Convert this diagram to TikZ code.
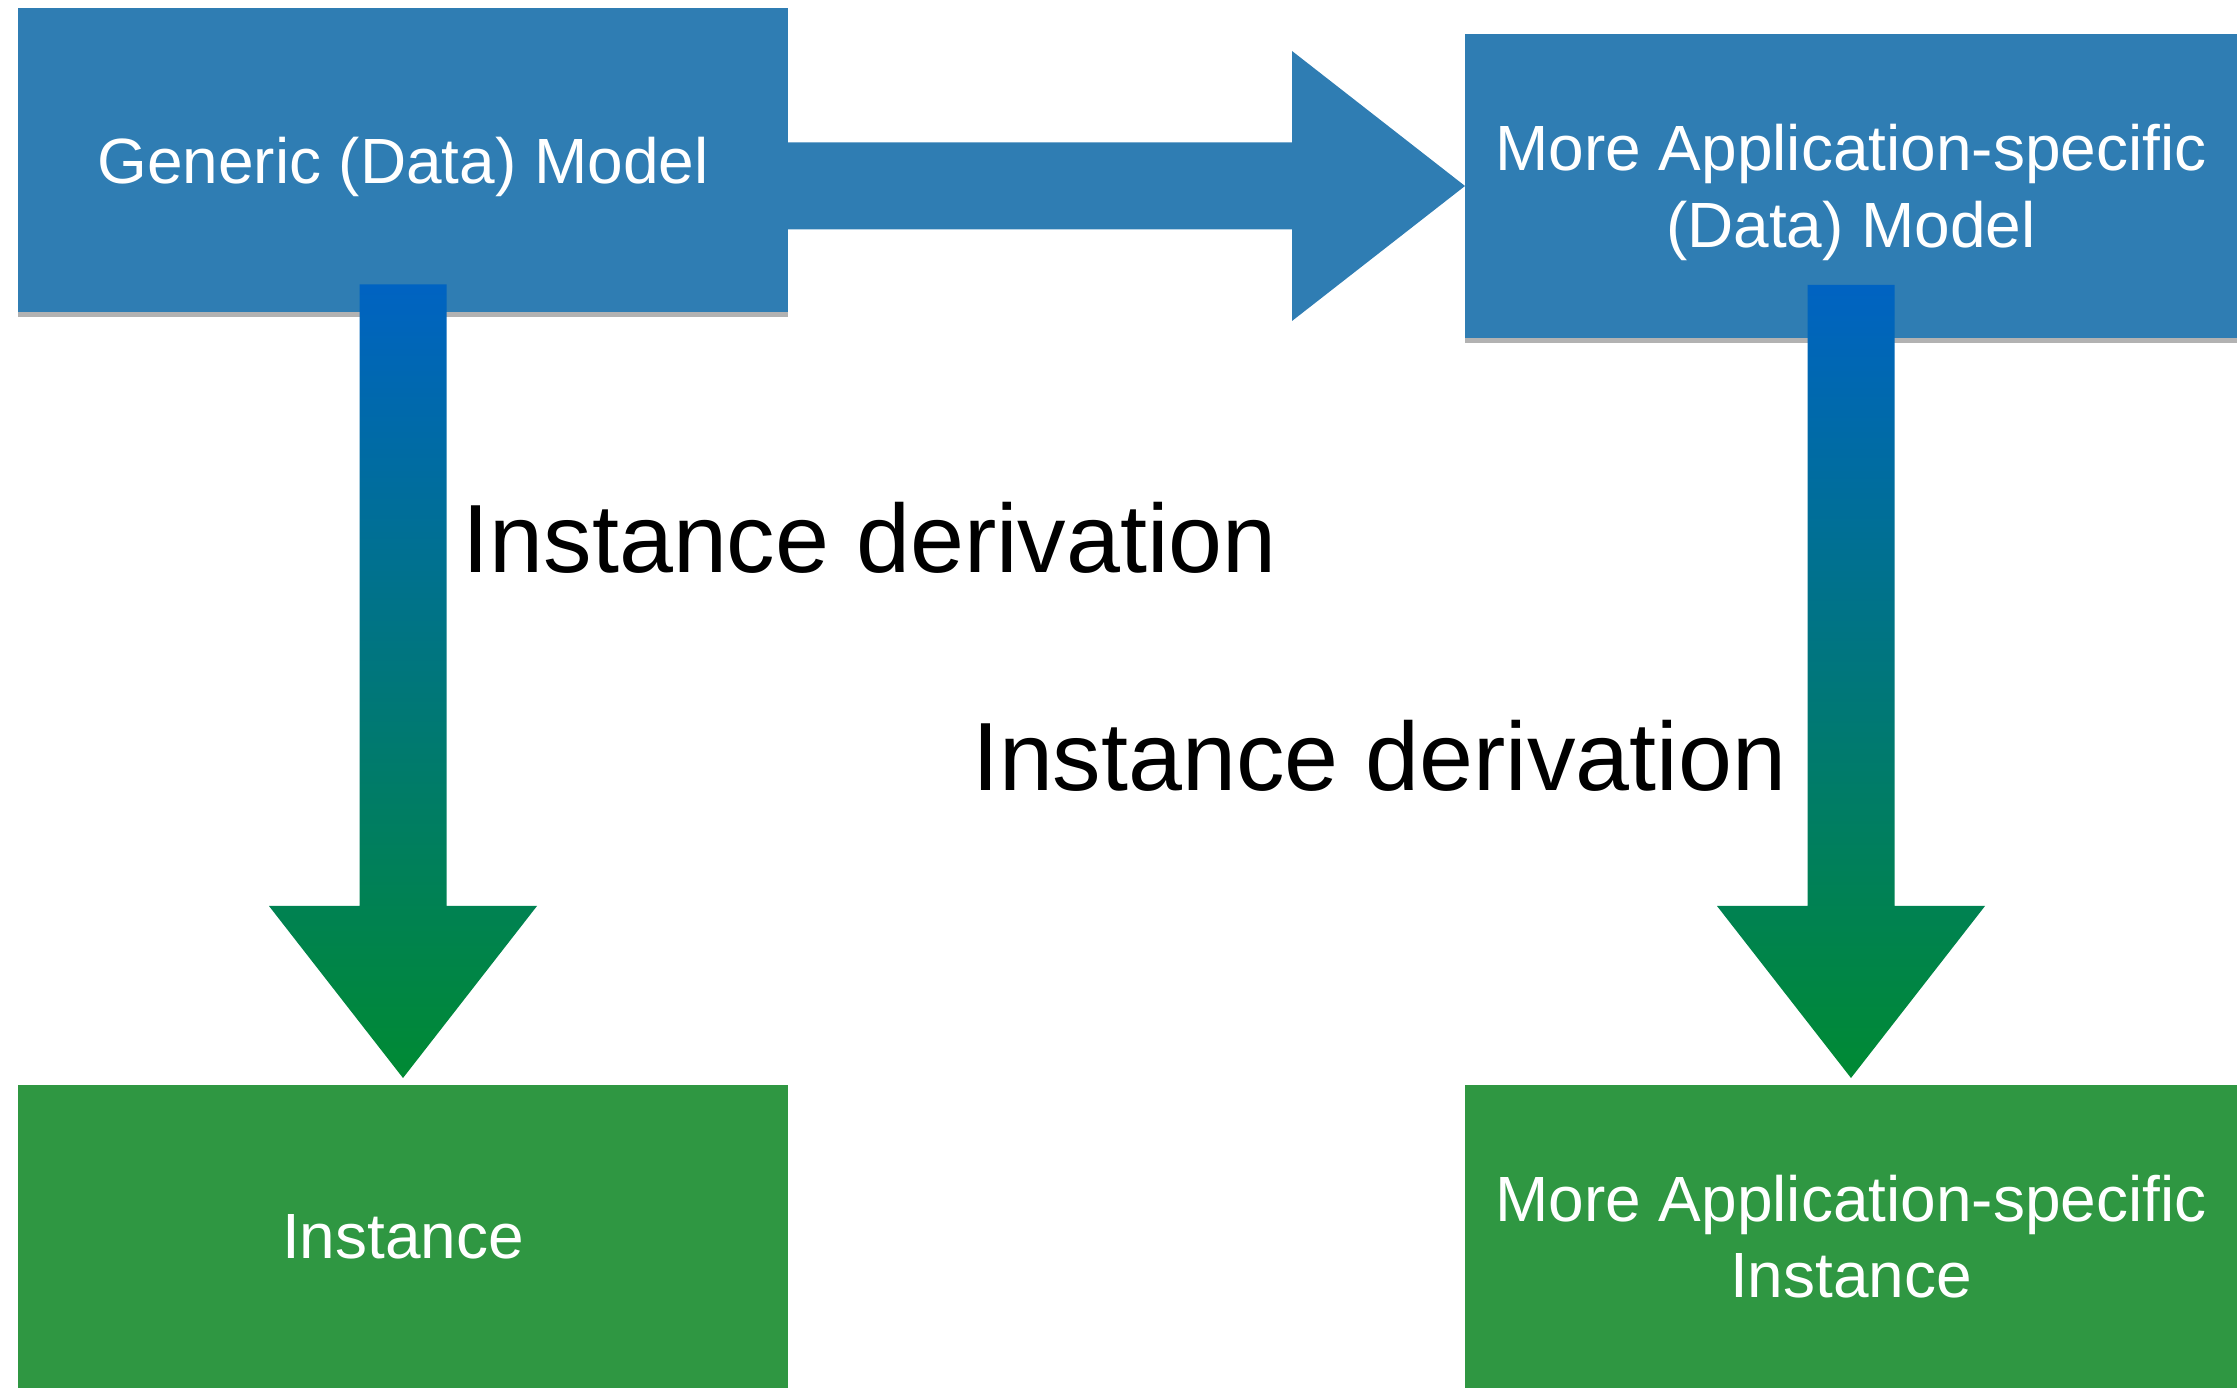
\documentclass[tikz,border=0pt]{standalone}
\usepackage{fontspec}
\setmainfont{Liberation Sans}
\usepackage{tikz}
\usetikzlibrary{calc}
\usetikzlibrary{shadows}
\definecolor{boxblue}{HTML}{2F7DB3}
\definecolor{boxgreen}{HTML}{2F9742}
\definecolor{arrtop}{HTML}{0063C2}
\definecolor{arrbot}{HTML}{008A33}
\tikzset{box/.style={rectangle,inner sep=0pt,outer sep=0pt,text=white,align=center,
  text depth=0pt,font=\fontsize{18.2}{21.8}\selectfont}}
\tikzset{bluebox/.style={box,fill=boxblue,minimum height=3.04cm,
  drop shadow={shadow xshift=0pt,shadow yshift=-0.05cm,opacity=0.3,fill=black}}}
\tikzset{greenbox/.style={box,fill=boxgreen,minimum height=3.03cm}}
\tikzset{l/.style={font=\fontsize{27.6}{27.6}\selectfont}}
\begin{document}
\begin{tikzpicture}
      \useasboundingbox (0,0) rectangle (22.37,13.88);
      \node[bluebox,minimum width=7.70cm] (gen) at (4.03,12.275) {Generic (Data) Model};
      \node[bluebox,minimum width=7.72cm] (app) at (18.51,12.02) {More Application-specific\\(Data) Model};
      \node[greenbox,minimum width=7.70cm] (inst) at (4.03,1.515) {Instance};
      \node[greenbox,minimum width=7.72cm] (appinst) at (18.51,1.515) {More Application-specific\\Instance};
      % specialisation
      \coordinate (s) at (gen.east |- app.west);
      \fill[boxblue] ($(s)+(0,0.435)$) -- ($(app.west)+(-1.73,0.435)$) -- ($(app.west)+(-1.73,1.35)$)
        -- (app.west) -- ($(app.west)+(-1.73,-1.35)$) -- ($(app.west)+(-1.73,-0.435)$)
        -- ($(s)+(0,-0.435)$) -- cycle;
      % instance derivation
      \coordinate (t1) at ($(gen.south)+(0,0.28)$);
      \coordinate (p1) at ($(inst.north)+(0,0.07)$);
      \shade[top color=arrtop,bottom color=arrbot] ($(t1)+(-0.435,0)$) -- ($(p1)+(-0.435,1.72)$)
        -- ($(p1)+(-1.34,1.72)$) -- (p1) -- ($(p1)+(1.34,1.72)$) -- ($(p1)+(0.435,1.72)$)
        -- ($(t1)+(0.435,0)$) -- cycle;
      \coordinate (t2) at ($(app.south)+(0,0.53)$);
      \coordinate (p2) at ($(appinst.north)+(0,0.07)$);
      \shade[top color=arrtop,bottom color=arrbot] ($(t2)+(-0.435,0)$) -- ($(p2)+(-0.435,1.72)$)
        -- ($(p2)+(-1.34,1.72)$) -- (p2) -- ($(p2)+(1.34,1.72)$) -- ($(p2)+(0.435,1.72)$)
        -- ($(t2)+(0.435,0)$) -- cycle;
      \node[l,anchor=base west,inner sep=0pt] (lab1) at ($(t1)+(0.59,-2.88)$) {Instance derivation};
      \node[l,anchor=base east,inner sep=0pt] (lab2) at ($(t2)+(-0.64,-5.06)$) {Instance derivation};
\end{tikzpicture}
\end{document}
